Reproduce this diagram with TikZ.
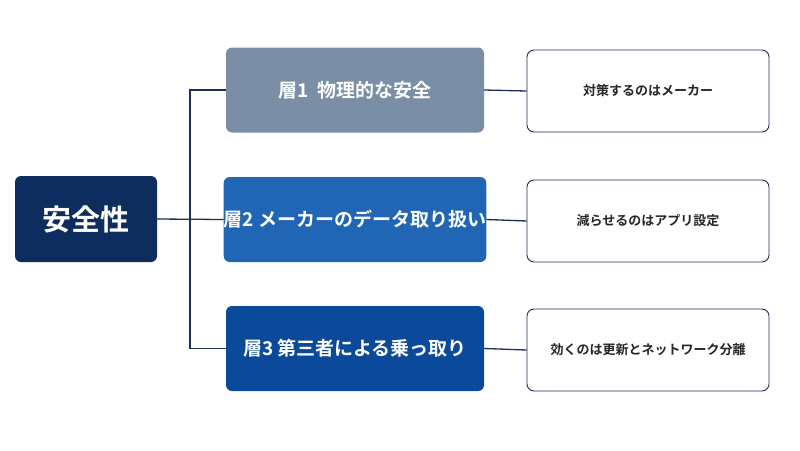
\documentclass[tikz,border=0pt]{standalone}
\usepackage{fontspec}
\newfontfamily\cjk{Noto Sans CJK JP}
\newfontfamily\cjkb{Noto Sans CJK JP Bold}
\definecolor{navy}{HTML}{0D2D5E}
\definecolor{lgray}{HTML}{7A8EA5}
\definecolor{mblue}{HTML}{2066B4}
\definecolor{dblue}{HTML}{0B4A9B}
\definecolor{line}{HTML}{1C2F55}
\begin{document}
\begin{tikzpicture}[x=1pt,y=-1pt,
  box/.style={rounded corners=6pt,minimum width=258pt,minimum height=85pt,text=white,font=\cjkb\fontsize{19}{22}\selectfont,inner sep=0pt},
  note/.style={draw=line,line width=0.9pt,fill=white,rounded corners=7pt,minimum width=242pt,minimum height=82pt,font=\cjkb\fontsize{13}{16}\selectfont,text=black!85,inner sep=0pt},
  conn/.style={line,line width=1.3pt}]
\useasboundingbox (0,0) rectangle (800,450);
\fill[white] (0,0) rectangle (800,450);
\node[box,fill=navy,minimum width=142pt,minimum height=86pt,font=\cjkb\fontsize{29}{32}\selectfont] (root) at (86,219) {安全性};
\node[box,fill=lgray] (l1) at (355,90) {層1\ \ 物理的な安全};
\node[box,fill=mblue] (l2) at (355,219.5) {層2 メーカーのデータ取り扱い};
\node[box,fill=dblue] (l3) at (355,348.5) {層3 第三者による乗っ取り};
\node[note] (n1) at (648,91) {対策するのはメーカー};
\node[note] (n2) at (648,221) {減らせるのはアプリ設定};
\node[note] (n3) at (648,350) {効くのは更新とネットワーク分離};
\coordinate (j) at (190,219);
\draw[conn] (root.east) -- (l2.west);
\draw[conn] (l1.west) -| (190,219) |- (l3.west);
\draw[conn] (l1.east) -- (n1.west);
\draw[conn] (l2.east) -- (n2.west);
\draw[conn] (l3.east) -- (n3.west);
\end{tikzpicture}
\end{document}
